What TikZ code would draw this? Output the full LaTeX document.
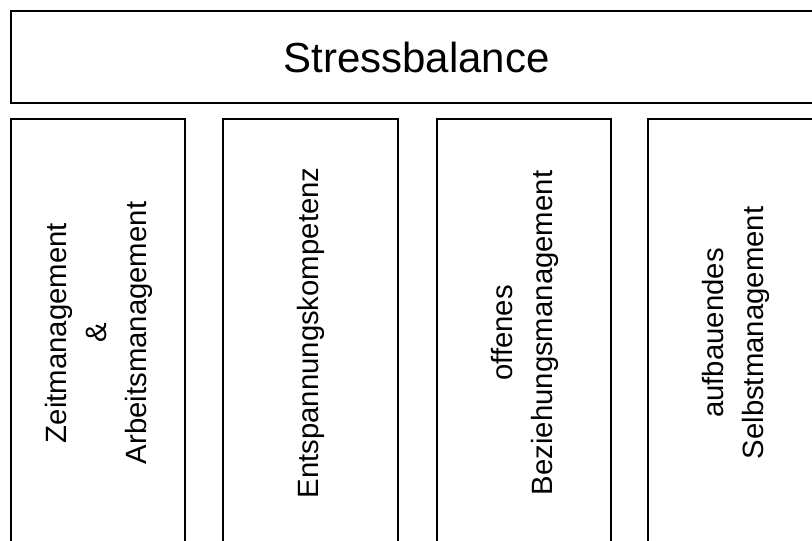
\documentclass[tikz,border=0pt]{standalone}
\usepackage{fontspec}
\setmainfont{Liberation Sans}
\tikzset{
  frame/.style={draw=black, line width=1.2pt},
  titletext/.style={font=\fontsize{31.5}{36}\selectfont},
  pillartext/.style={rotate=90, align=center, font=\fontsize{22}{30}\selectfont}
}
\begin{document}
\begin{tikzpicture}[x=0.75pt, y=-0.75pt]
    \useasboundingbox (0,0) rectangle (812,540);
    \clip (0,0) rectangle (812,540);
    % roof
    \draw[frame] (11,11) rectangle (822,103);
    \node[titletext] (roof) at (416.5,57) {Stressbalance};
    % pillars
    \draw[frame] (11,119) rectangle (185,547);
    \draw[frame] (223,119) rectangle (398,547);
    \draw[frame] (437,119) rectangle (611,547);
    \draw[frame] (648,119) rectangle (822,547);
    \node[pillartext] (zeit) at (99,333) {Zeitmanagement\\\&\\Arbeitsmanagement};
    \node[pillartext] (entspannung) at (311,333) {Entspannungskompetenz};
    \node[pillartext] (beziehung) at (525,333) {offenes\\Beziehungsmanagement};
    \node[pillartext] (selbst) at (736,333) {aufbauendes\\Selbstmanagement};
\end{tikzpicture}
\end{document}
